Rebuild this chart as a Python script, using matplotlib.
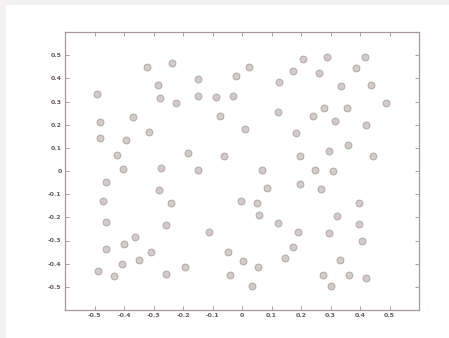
import numpy as np
import matplotlib
matplotlib.use("Agg")
import matplotlib.pyplot as plt
from matplotlib.patches import Rectangle

# scatter points
x_vals = [-0.323, -0.238, -0.284, -0.150, -0.493, -0.278, -0.224, -0.150, -0.088, -0.075,
          -0.371, -0.481, -0.314, -0.481, -0.394, -0.425, -0.182, -0.061, -0.404, -0.274,
          -0.149, 0.206, 0.287, 0.417, 0.025, 0.386, -0.019, 0.172, 0.260, 0.126,
          0.337, 0.437, -0.029, 0.487, 0.121, 0.277, 0.357, 0.242, 0.316, 0.419,
          0.011, 0.183, 0.358, 0.295, 0.197, 0.443, 0.069, 0.247, 0.309, -0.461,
          -0.280, -0.472, -0.242, -0.461, -0.259, -0.112, -0.363, -0.399, -0.461, -0.309,
          -0.349, -0.408, -0.487, -0.433, -0.258, -0.193, 0.085, 0.196, 0.269, -0.004,
          0.052, 0.397, 0.058, 0.321, 0.123, 0.397, 0.191, 0.296, 0.406, 0.173,
          -0.046, 0.146, 0.332, 0.002, 0.054, 0.274, 0.364, 0.419, -0.041, 0.302,
          0.035]
y_vals = [0.450, 0.467, 0.371, 0.397, 0.333, 0.316, 0.293, 0.323, 0.318, 0.237,
          0.233, 0.210, 0.169, 0.141, 0.134, 0.069, 0.078, 0.065, 0.007, 0.013,
          0.004, 0.484, 0.491, 0.493, 0.451, 0.445, 0.412, 0.432, 0.424, 0.384,
          0.366, 0.371, 0.324, 0.292, 0.253, 0.273, 0.273, 0.236, 0.216, 0.197,
          0.182, 0.163, 0.111, 0.088, 0.063, 0.065, 0.004, 0.004, 0.000, -0.046,
          -0.083, -0.131, -0.137, -0.220, -0.231, -0.262, -0.284, -0.315, -0.338, -0.350,
          -0.384, -0.400, -0.431, -0.454, -0.443, -0.413, -0.075, -0.055, -0.078, -0.128,
          -0.137, -0.139, -0.190, -0.194, -0.225, -0.228, -0.264, -0.266, -0.303, -0.329,
          -0.348, -0.375, -0.385, -0.387, -0.416, -0.447, -0.451, -0.461, -0.449, -0.496,
          -0.496]
ticks = [-0.5, -0.4, -0.3, -0.2, -0.1, 0, 0.1, 0.2, 0.3, 0.4, 0.5]
tick_labels = ["-0.5", "-0.4", "-0.3", "-0.2", "-0.1", "0", "0.1", "0.2", "0.3", "0.4", "0.5"]

fig = plt.figure(figsize=(4.49, 3.38), dpi=100)
fig.patch.set_facecolor("white")
# light grey strips along top and left edge
fig.patches.append(Rectangle((0, 1 - 5 / 338), 1, 5 / 338, transform=fig.transFigure,
                             facecolor="#f3f1f1", edgecolor="none", zorder=0))
fig.patches.append(Rectangle((0, 0), 6 / 449, 1, transform=fig.transFigure,
                             facecolor="#f3f1f1", edgecolor="none", zorder=0))

ax = fig.add_axes([65 / 449, 28 / 338, 354 / 449, 278 / 338])
ax.scatter(x_vals, y_vals, s=24, facecolor="#d3cbcb", edgecolor="#b3a7a7", linewidth=0.7)

ax.set_xlim(-0.6, 0.6)
ax.set_ylim(-0.6, 0.6)
ax.set_xticks(ticks)
ax.set_yticks(ticks)
ax.set_xticklabels(tick_labels, fontweight="bold")
ax.set_yticklabels(tick_labels, fontweight="bold")
ax.tick_params(direction="in", top=True, right=True, length=3, width=0.6,
               color="#a09090", labelsize=4.5, labelcolor="#6a5c5c", pad=2.5)
for sp in ax.spines.values():
    sp.set_color("#a89898")
    sp.set_linewidth(0.9)

fig.savefig("out.png", dpi=100)
